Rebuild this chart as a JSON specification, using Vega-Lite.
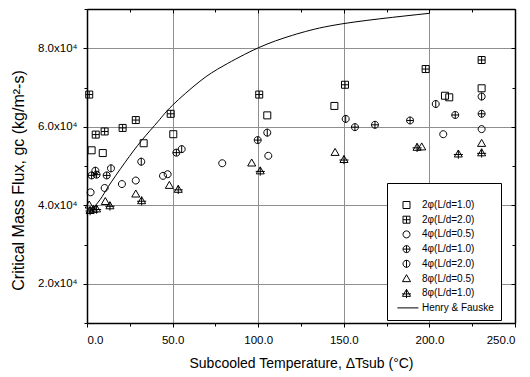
{
  "$schema": "https://vega.github.io/schema/vega-lite/v6.json",
  "width": 428,
  "height": 314,
  "autosize": "none",
  "padding": {"left": 87, "top": 9, "right": 15, "bottom": 54},
  "config": {
    "font": "Liberation Sans",
    "view": {"stroke": null},
    "axis": {
      "domainColor": "black",
      "domainWidth": 1.5,
      "tickColor": "black",
      "tickWidth": 1,
      "labelColor": "black",
      "titleColor": "black",
      "labelFontSize": 11.5,
      "titleFontSize": 14,
      "titleFontWeight": "normal",
      "gridColor": "#8f8f8f",
      "gridWidth": 1
    }
  },
  "data": {
    "values": [
      {"series": "2φ(L/d=1.0)", "x": 2.7, "y": 54000},
      {"series": "2φ(L/d=1.0)", "x": 9.2, "y": 53300},
      {"series": "2φ(L/d=1.0)", "x": 33.1, "y": 55800},
      {"series": "2φ(L/d=1.0)", "x": 50.4, "y": 58100},
      {"series": "2φ(L/d=1.0)", "x": 105.3, "y": 62900},
      {"series": "2φ(L/d=1.0)", "x": 144.5, "y": 65300},
      {"series": "2φ(L/d=1.0)", "x": 209.1, "y": 67900},
      {"series": "2φ(L/d=1.0)", "x": 211.6, "y": 67500},
      {"series": "2φ(L/d=1.0)", "x": 230.5, "y": 69800},
      {"series": "2φ(L/d=2.0)", "x": 1.3, "y": 68200},
      {"series": "2φ(L/d=2.0)", "x": 5.1, "y": 58000},
      {"series": "2φ(L/d=2.0)", "x": 10.3, "y": 58800},
      {"series": "2φ(L/d=2.0)", "x": 20.8, "y": 59700},
      {"series": "2φ(L/d=2.0)", "x": 28.5, "y": 61700},
      {"series": "2φ(L/d=2.0)", "x": 48.9, "y": 63300},
      {"series": "2φ(L/d=2.0)", "x": 100.6, "y": 68200},
      {"series": "2φ(L/d=2.0)", "x": 150.7, "y": 70700},
      {"series": "2φ(L/d=2.0)", "x": 197.8, "y": 74700},
      {"series": "2φ(L/d=2.0)", "x": 230.5, "y": 77000},
      {"series": "4φ(L/d=0.5)", "x": 2.1, "y": 43300},
      {"series": "4φ(L/d=0.5)", "x": 10.3, "y": 44400},
      {"series": "4φ(L/d=0.5)", "x": 20.4, "y": 45400},
      {"series": "4φ(L/d=0.5)", "x": 28.5, "y": 46300},
      {"series": "4φ(L/d=0.5)", "x": 44.4, "y": 47500},
      {"series": "4φ(L/d=0.5)", "x": 47.1, "y": 47900},
      {"series": "4φ(L/d=0.5)", "x": 79.0, "y": 50700},
      {"series": "4φ(L/d=0.5)", "x": 105.9, "y": 52600},
      {"series": "4φ(L/d=0.5)", "x": 208.1, "y": 58100},
      {"series": "4φ(L/d=0.5)", "x": 230.5, "y": 59400},
      {"series": "4φ(L/d=1.0)", "x": 2.7, "y": 47600},
      {"series": "4φ(L/d=1.0)", "x": 5.6, "y": 47800},
      {"series": "4φ(L/d=1.0)", "x": 11.5, "y": 47600},
      {"series": "4φ(L/d=1.0)", "x": 52.2, "y": 53400},
      {"series": "4φ(L/d=1.0)", "x": 99.7, "y": 56600},
      {"series": "4φ(L/d=1.0)", "x": 156.5, "y": 59900},
      {"series": "4φ(L/d=1.0)", "x": 168.2, "y": 60500},
      {"series": "4φ(L/d=1.0)", "x": 188.7, "y": 61600},
      {"series": "4φ(L/d=1.0)", "x": 215.1, "y": 63000},
      {"series": "4φ(L/d=1.0)", "x": 230.5, "y": 63300},
      {"series": "4φ(L/d=2.0)", "x": 4.9, "y": 48800},
      {"series": "4φ(L/d=2.0)", "x": 14.0, "y": 49400},
      {"series": "4φ(L/d=2.0)", "x": 31.7, "y": 51100},
      {"series": "4φ(L/d=2.0)", "x": 55.3, "y": 54300},
      {"series": "4φ(L/d=2.0)", "x": 105.3, "y": 58500},
      {"series": "4φ(L/d=2.0)", "x": 151.1, "y": 62000},
      {"series": "4φ(L/d=2.0)", "x": 203.7, "y": 65800},
      {"series": "4φ(L/d=2.0)", "x": 230.5, "y": 67700},
      {"series": "8φ(L/d=0.5)", "x": 1.3, "y": 40100},
      {"series": "8φ(L/d=0.5)", "x": 10.7, "y": 41000},
      {"series": "8φ(L/d=0.5)", "x": 28.5, "y": 42900},
      {"series": "8φ(L/d=0.5)", "x": 48.1, "y": 45100},
      {"series": "8φ(L/d=0.5)", "x": 96.2, "y": 50800},
      {"series": "8φ(L/d=0.5)", "x": 144.9, "y": 53500},
      {"series": "8φ(L/d=0.5)", "x": 195.5, "y": 54900},
      {"series": "8φ(L/d=0.5)", "x": 230.5, "y": 55800},
      {"series": "8φ(L/d=1.0)", "x": 1.8, "y": 38700},
      {"series": "8φ(L/d=1.0)", "x": 3.7, "y": 39000},
      {"series": "8φ(L/d=1.0)", "x": 5.6, "y": 39100},
      {"series": "8φ(L/d=1.0)", "x": 13.4, "y": 39900},
      {"series": "8φ(L/d=1.0)", "x": 31.9, "y": 41200},
      {"series": "8φ(L/d=1.0)", "x": 53.3, "y": 44100},
      {"series": "8φ(L/d=1.0)", "x": 101.2, "y": 48800},
      {"series": "8φ(L/d=1.0)", "x": 150.1, "y": 51700},
      {"series": "8φ(L/d=1.0)", "x": 192.8, "y": 54800},
      {"series": "8φ(L/d=1.0)", "x": 216.9, "y": 53100},
      {"series": "8φ(L/d=1.0)", "x": 230.5, "y": 53400},
      {"series": "Henry & Fauske", "x": 0, "y": 37500},
      {"series": "Henry & Fauske", "x": 7.6, "y": 41400},
      {"series": "Henry & Fauske", "x": 12.5, "y": 44800},
      {"series": "Henry & Fauske", "x": 22.2, "y": 50900},
      {"series": "Henry & Fauske", "x": 31.9, "y": 56500},
      {"series": "Henry & Fauske", "x": 41.6, "y": 61400},
      {"series": "Henry & Fauske", "x": 50, "y": 65500},
      {"series": "Henry & Fauske", "x": 66, "y": 71600},
      {"series": "Henry & Fauske", "x": 80, "y": 75600},
      {"series": "Henry & Fauske", "x": 100, "y": 80100},
      {"series": "Henry & Fauske", "x": 120, "y": 83300},
      {"series": "Henry & Fauske", "x": 142, "y": 85700},
      {"series": "Henry & Fauske", "x": 171, "y": 87500},
      {"series": "Henry & Fauske", "x": 200, "y": 88900}
    ]
  },
  "layer": [
    {
      "transform": [{"filter": "datum.series === 'Henry & Fauske'"}],
      "mark": {"type": "line", "color": "black", "strokeWidth": 1, "interpolate": "natural"},
      "encoding": {
        "x": {
          "field": "x", "type": "quantitative",
          "scale": {"domain": [0, 250], "nice": false, "zero": false},
          "axis": {
            "orient": "top", "values": [0, 25, 50, 75, 100, 125, 150, 175, 200, 225, 250],
            "labels": false, "title": null, "grid": false,
            "tickSize": {"condition": {"test": "datum.value % 50 === 0", "value": -4}, "value": -3}
          }
        },
        "y": {
          "field": "y", "type": "quantitative",
          "scale": {"domain": [10000, 90000], "nice": false, "zero": false},
          "axis": {
            "orient": "right", "values": [10000, 20000, 30000, 40000, 50000, 60000, 70000, 80000, 90000],
            "labels": false, "title": null, "grid": false,
            "tickSize": {"condition": {"test": "datum.value % 20000 === 0", "value": -4}, "value": -3}
          }
        }
      }
    },
    {
      "transform": [{"filter": "datum.series !== 'Henry & Fauske'"}],
      "mark": {"type": "point", "filled": false, "color": "black", "size": 49, "strokeWidth": 1, "opacity": 1},
      "encoding": {
        "x": {
          "field": "x", "type": "quantitative",
          "scale": {"domain": [0, 250], "nice": false, "zero": false},
          "axis": {
            "orient": "bottom", "values": [0, 25, 50, 75, 100, 125, 150, 175, 200, 225, 250],
            "labelExpr": "datum.value % 50 === 0 ? format(datum.value, '.1f') : ''",
            "title": "Subcooled Temperature, ΔTsub (°C)",
            "grid": true,
            "gridOpacity": {"condition": {"test": "datum.value % 50 === 0 && datum.value > 0 && datum.value < 250", "value": 1}, "value": 0},
            "tickSize": {"condition": {"test": "datum.value % 50 === 0", "value": 4}, "value": 3},
            "labelPadding": 7,
            "titlePadding": 11
          }
        },
        "y": {
          "field": "y", "type": "quantitative",
          "scale": {"domain": [10000, 90000], "nice": false, "zero": false},
          "axis": {
            "orient": "left", "values": [10000, 20000, 30000, 40000, 50000, 60000, 70000, 80000, 90000],
            "labelExpr": "datum.value % 20000 === 0 ? format(datum.value / 10000, '.1f') + 'x10⁴' : ''",
            "title": "Critical Mass Flux, gc (kg/m²-s)",
            "titleFontSize": 16,
            "titleY": 171,
            "grid": true,
            "gridOpacity": {"condition": {"test": "datum.value % 20000 === 0 && datum.value < 90000", "value": 1}, "value": 0},
            "tickSize": {"condition": {"test": "datum.value % 20000 === 0", "value": 4}, "value": 3},
            "labelPadding": 6,
            "titlePadding": 11
          }
        },
        "shape": {
          "field": "series", "type": "nominal",
          "scale": {
            "domain": ["2φ(L/d=1.0)", "2φ(L/d=2.0)", "4φ(L/d=0.5)", "4φ(L/d=1.0)", "4φ(L/d=2.0)", "8φ(L/d=0.5)", "8φ(L/d=1.0)", "Henry & Fauske"],
            "range": [
              "M-1,-1H1V1H-1Z",
              "M-1,-1H1V1H-1Z M0,-1V1 M-1,0H1",
              "M-1,0A1,1,0,1,1,1,0A1,1,0,1,1,-1,0Z",
              "M-1,0A1,1,0,1,1,1,0A1,1,0,1,1,-1,0Z M0,-1V1 M-1,0H1",
              "M-1,0A1,1,0,1,1,1,0A1,1,0,1,1,-1,0Z M0,-1.1V1.1",
              "M0,-1.1L1.15,0.9H-1.15Z",
              "M0,-1.1L1.15,0.9H-1.15Z M0,-1.1V1.4 M-1.3,0.2H1.3",
              "M-2.6,0H3.4"
            ]
          },
          "legend": {
            "orient": "none", "legendX": 300, "legendY": 174,
            "title": " ", "titleFontSize": 6, "titlePadding": 4,
            "padding": 7, "symbolOffset": 7.5, "labelOffset": 10.5,
            "strokeColor": "black", "fillColor": "white",
            "labelFontSize": 10, "labelColor": "black",
            "symbolSize": 49, "symbolStrokeWidth": 1, "symbolStrokeColor": "black",
            "rowPadding": 2.7
          }
        }
      }
    }
  ],
  "resolve": {"axis": {"x": "independent", "y": "independent"}}
}
